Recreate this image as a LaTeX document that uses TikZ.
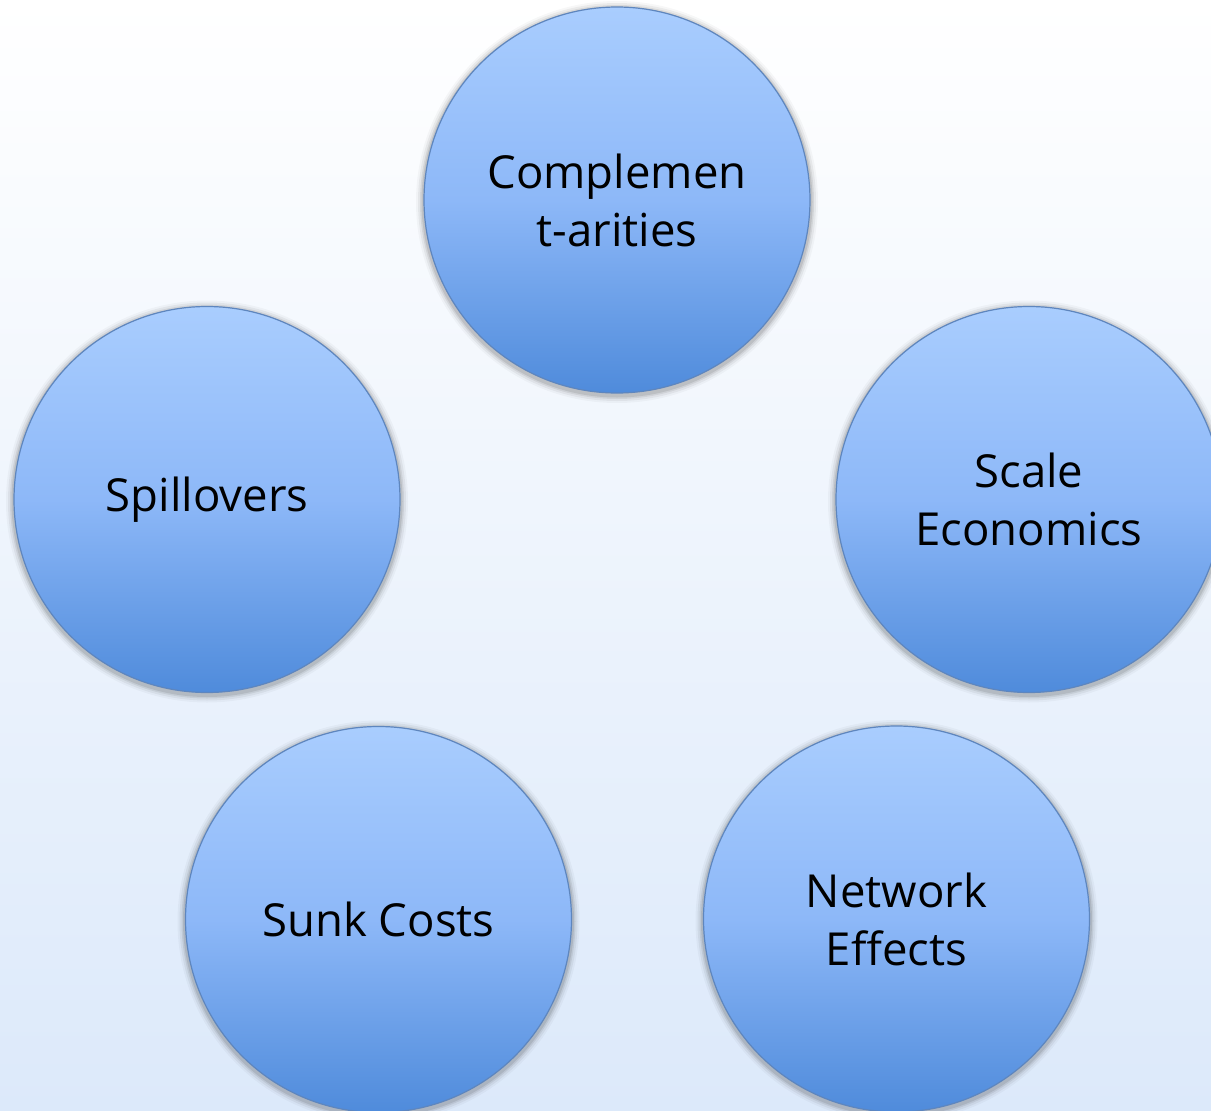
\documentclass[tikz,border=0pt]{standalone}
\usepackage{fontspec}
\setmainfont{Open Sans}
\usetikzlibrary{shadings}
\definecolor{bgtop}{HTML}{FFFFFF}
\definecolor{bgbot}{HTML}{DCE9FA}
\definecolor{ctop}{HTML}{A9CDFE}
\definecolor{cmid}{HTML}{8DB8F8}
\definecolor{cbot}{HTML}{4F8BDB}
\definecolor{crim}{HTML}{5E86BE}
\tikzset{
  bubble/.style={circle, minimum size=386pt, inner sep=0pt,
    top color=ctop, bottom color=cbot, middle color=cmid,
    draw=crim, line width=1.2pt,
    font=\fontsize{45.5pt}{58pt}\selectfont, text=black, align=center},
}
\newcommand{\bubbleshadow}[2]{%
  \foreach \r/\o in {201/0.03,199/0.05,197/0.07,195.5/0.09}{
    \fill[black, opacity=\o] (#1,#2+2) circle[radius=\r pt];
  }}
\newcommand{\bubblebevel}[2]{%
  \draw[white, opacity=0.35, line width=2pt] (#1,#2) ++(150:189) arc[start angle=150, end angle=30, radius=189];
}
\begin{document}
\begin{tikzpicture}[x=1pt,y=-1pt]
  \shade[top color=bgtop, bottom color=bgbot] (0,0) rectangle (1211,1111);
  \useasboundingbox (0,0) rectangle (1211,1111);
  \begin{scope}
    \clip (0,0) rectangle (1211,1111);
    \bubbleshadow{617}{200}
    \bubbleshadow{207}{499.5}
    \bubbleshadow{1029}{499.5}
    \bubbleshadow{378.5}{919.5}
    \bubbleshadow{896.5}{919}
    \node[bubble] (comp) at (617,200) {Complemen\\t-arities};
    \node[bubble] (spill) at (207,499.5) {Spillovers};
    \node[bubble] (scale) at (1029,499.5) {Scale\\Economics};
    \node[bubble] (sunk) at (378.5,919.5) {Sunk Costs};
    \node[bubble] (net) at (896.5,919) {Network\\Effects};
  \end{scope}
\end{tikzpicture}
\end{document}
